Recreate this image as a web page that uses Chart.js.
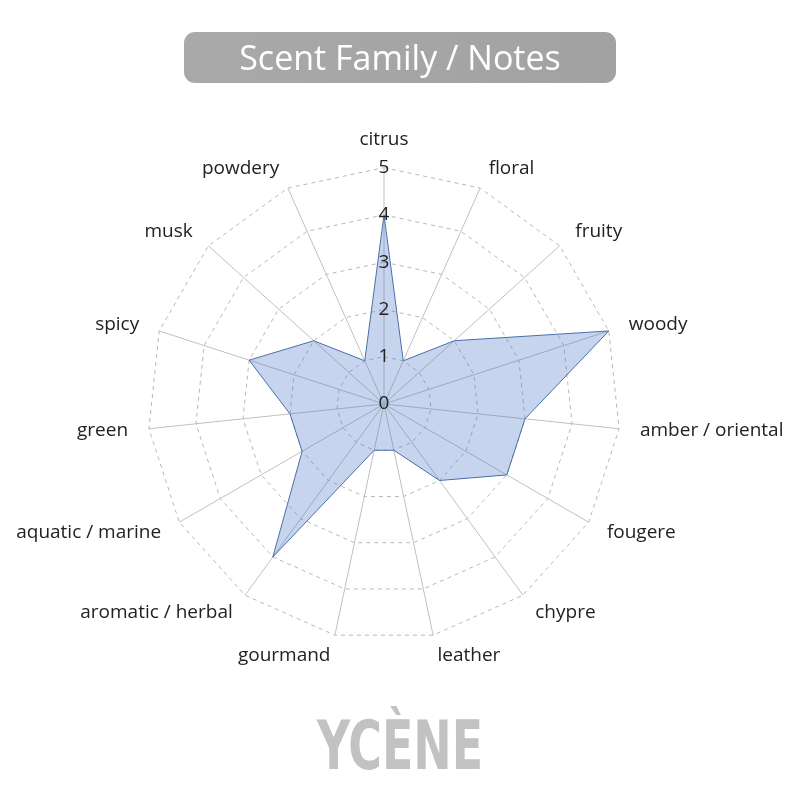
<!DOCTYPE html>
<html>
<head>
<meta charset="utf-8">
<script src="https://cdn.jsdelivr.net/npm/chart.js@4/dist/chart.umd.min.js"></script>
<style>
  html, body { margin: 0; padding: 0; background: #fff; }
  #wrap { position: relative; width: 800px; height: 800px; overflow: hidden; }
  #chart { position: absolute; left: 0; top: 0; }
  .title-box {
    position: absolute; left: 184px; top: 32px; width: 432px; height: 51px;
    border-radius: 11px;
    background: linear-gradient(90deg, #a9a9a9, #a2a2a2);
    color: #fff; font-family: "Open Sans", sans-serif; font-size: 34px;
    line-height: 51px; text-align: center;
  }
  .logo {
    position: absolute; left: 0; width: 800px; top: 706px; text-align: center;
    color: #c2c2c2; font-family: "Liberation Sans Narrow", "DejaVu Sans Condensed", sans-serif;
    font-weight: bold; font-size: 68px; line-height: 80px;
    transform: scaleX(0.75);
  }
</style>
</head>
<body>
<div id="wrap">
  <canvas id="chart" width="800" height="800"></canvas>
  <div class="title-box">Scent Family / Notes</div>
  <div class="logo">YCÈNE</div>
</div>
<script>
// Scent families, clockwise from the top
const families = [
  'citrus', 'floral', 'fruity', 'woody', 'amber / oriental', 'fougere',
  'chypre', 'leather', 'gourmand', 'aromatic / herbal', 'aquatic / marine',
  'green', 'spicy', 'musk', 'powdery'
];

// Intensity per family (0-5)
const intensity = [4, 1, 2, 5, 3, 3, 2, 1, 1, 4, 2, 2, 3, 2, 1];

const tickMin = 0;
const tickMax = 5;
const tickStep = 1;

const FONT = '"Open Sans", sans-serif';
const TEXT_COLOR = '#222';

// Chart.js skips the first tick label of a radial scale, so the "0" is drawn here.
// Point labels are also drawn here, vertically centred on their spoke
// (Chart.js would push the upper ones up by a full line height).
const radarText = {
    id: 'radarText',
    afterDraw(chart) {
        const scale = chart.scales.r;
        const ctx = chart.ctx;
        ctx.save();
        ctx.font = '19px ' + FONT;
        ctx.fillStyle = TEXT_COLOR;
        ctx.textBaseline = 'middle';

        const zero = scale.getPointPositionForValue(0, tickMin);
        ctx.textAlign = 'center';
        ctx.fillText(String(tickMin), zero.x, zero.y);

        scale._pointLabels.forEach((label, i) => {
            const extra = i === 0 ? 7 : 0;
            const pos = scale.getPointPosition(i, scale.drawingArea + 21 + extra);
            const deg = Math.round(pos.angle * 180 / Math.PI + 90 + 360) % 360;
            if (deg === 0 || deg === 180) ctx.textAlign = 'center';
            else if (deg < 180) ctx.textAlign = 'left';
            else ctx.textAlign = 'right';
            ctx.fillText(label, pos.x, pos.y);
        });
        ctx.restore();
    }
};

const ctx = document.getElementById('chart').getContext('2d');
new Chart(ctx, {
    type: 'radar',
    data: {
        labels: families,
        datasets: [{
            label: 'Scent Family / Notes',
            data: intensity,
            borderColor: '#4a6fa8',
            backgroundColor: 'rgba(68, 114, 196, 0.3)',
            borderWidth: 1,
            pointRadius: 0,
            fill: true
        }]
    },
    options: {
        responsive: false,
        animation: false,
        layout: {
            padding: { top: 122, bottom: 118, left: 2, right: 2 }
        },
        plugins: {
            legend: { display: false },
            tooltip: { enabled: false }
        },
        scales: {
            r: {
                min: tickMin,
                max: tickMax,
                angleLines: { color: '#c0c0c0', lineWidth: 1 },
                grid: { color: '#b8b8b8', lineWidth: 1, circular: false },
                border: { dash: [4, 4] },
                pointLabels: {
                    // space is reserved by Chart.js, text drawn by radarText
                    color: 'rgba(0,0,0,0)',
                    padding: 8,
                    font: { family: FONT, size: 19 }
                },
                ticks: {
                    stepSize: tickStep,
                    color: TEXT_COLOR,
                    showLabelBackdrop: false,
                    z: 1,
                    font: { family: FONT, size: 19 }
                }
            }
        }
    },
    plugins: [radarText]
});
</script>
</body>
</html>
